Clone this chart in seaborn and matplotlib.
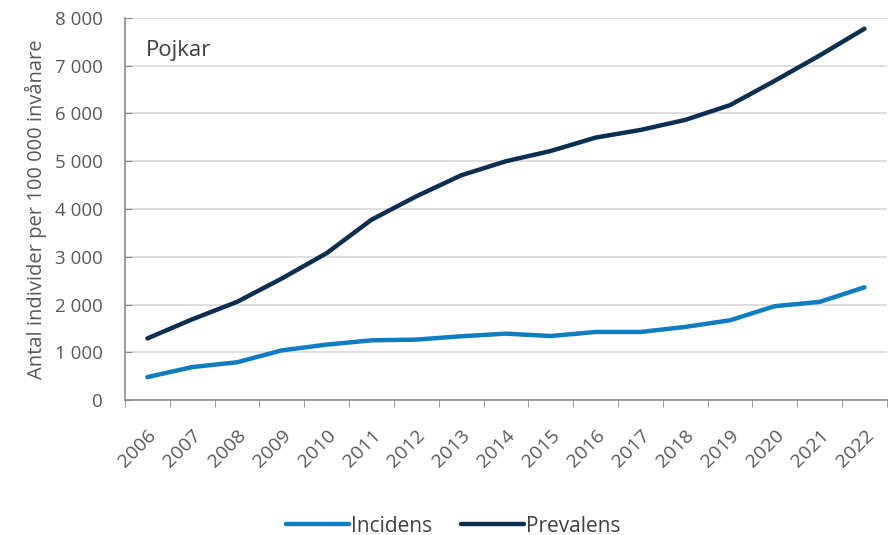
import seaborn as sns
import matplotlib.pyplot as plt
import matplotlib.ticker as mticker
import pandas as pd

# data
years = [str(y) for y in range(2006, 2023)]
incidens = [480, 690, 790, 1040, 1160, 1250, 1265, 1335, 1390, 1340, 1425, 1425, 1530, 1670, 1965, 2055, 2360]
prevalens = [1290, 1690, 2055, 2545, 3075, 3775, 4265, 4705, 5000, 5215, 5495, 5655, 5865, 6175, 6685, 7215, 7775]

df = pd.DataFrame({'År': years * 2,
                   'Värde': incidens + prevalens,
                   'Serie': ['Incidens'] * len(years) + ['Prevalens'] * len(years)})

sns.set_style('white')
plt.rcParams['font.family'] = ['Open Sans', 'DejaVu Sans']
grey = '#595959'

fig = plt.figure(figsize=(8.89, 5.35), dpi=100)
ax = fig.add_axes([0.1406, 0.2523, 0.857, 0.7141])

sns.lineplot(data=df, x='År', y='Värde', hue='Serie', sort=False,
             palette={'Incidens': '#0f7dc2', 'Prevalens': '#0a2f52'},
             linewidth=3.2, ax=ax, legend=True)

ax.set_ylim(0, 8000)
ax.set_xlim(-0.5, len(years) - 0.5)
ax.yaxis.set_major_locator(mticker.MultipleLocator(1000))
ax.yaxis.set_major_formatter(mticker.FuncFormatter(lambda v, p: f"{int(v):,}".replace(",", " ")))
ax.grid(axis='y', color='#d9d9d9', linewidth=1.2)
ax.set_axisbelow(True)

# category ticks sit between years, labels at the year centres
ax.set_xticks([i - 0.5 for i in range(len(years) + 1)], minor=True)
ax.set_xticks(range(len(years)))
ax.set_xticklabels(years, rotation=45, ha='right', rotation_mode='anchor')
ax.tick_params(axis='x', which='major', length=0, pad=19, labelsize=14, labelcolor=grey)
ax.tick_params(axis='x', which='minor', length=5, color='#8c8c8c', direction='out', bottom=True)
ax.tick_params(axis='y', length=5, color='#8c8c8c', direction='in', left=True,
               labelsize=13.5, labelcolor=grey, pad=16)

for s in ['top', 'right']:
    ax.spines[s].set_visible(False)
for s in ['left', 'bottom']:
    ax.spines[s].set_color('#8c8c8c')
    ax.spines[s].set_linewidth(1.2)

ax.set_xlabel('')
ax.set_ylabel('Antal individer per 100 000 invånare', fontsize=14.5, color=grey, labelpad=6)
ax.text(0.027, 0.915, 'Pojkar', transform=ax.transAxes, fontsize=16, color='#404040', va='center')

handles, labels = ax.get_legend_handles_labels()
ax.get_legend().remove()
fig.legend(handles, labels, loc='lower center', bbox_to_anchor=(0.51, -0.038), ncol=2,
           frameon=False, fontsize=15, handlelength=3.0, handletextpad=0.1,
           columnspacing=1.4, labelcolor='#404040')

plt.savefig('out.png', dpi=100)
